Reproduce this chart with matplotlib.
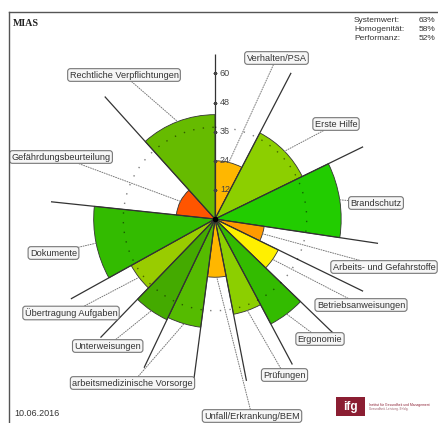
import numpy as np
import matplotlib
matplotlib.use("Agg")
import matplotlib.pyplot as plt
from matplotlib.lines import Line2D
from matplotlib.patches import Rectangle
import matplotlib.transforms as mtransforms

# ---------------- data ----------------
categories = ["Verhalten/PSA", "Erste Hilfe", "Brandschutz", "Arbeits- und Gefahrstoffe",
              "Betriebsanweisungen", "Ergonomie", "Prüfungen", "Unfall/Erkrankung/BEM",
              "arbeitsmedizinische Vorsorge", "Unterweisungen", "Übertragung Aufgaben",
              "Dokumente", "Gefährdungsbeurteilung", "Rechtliche Verpflichtungen"]
values = [24, 40, 52, 20.5, 29, 49, 40, 24, 45, 46, 39.5, 50, 16, 43]
widths_deg = [27.5, 36.5, 34.5, 17.5, 18, 18, 17, 18.5, 18, 18.5, 17, 35, 42, 42]
colors = ["#FFB700", "#8CCF00", "#22CC00", "#FF9A00", "#FFF000", "#33BB00", "#8CCF00",
          "#FFB700", "#55BB00", "#44AA00", "#99CC00", "#33BB00", "#FF5500", "#66BB00"]
r_ticks = [12, 24, 36, 48, 60]
r_max = 68
stats_names = ["Systemwert:", "Homogenität:", "Performanz:"]
stats_values = ["63%", "58%", "52%"]
systemwert = 63
date_text = "10.06.2016"

# label box positions (image pixels, y from top) -- layout only
label_pos = [(276.5, 58), (336, 124), (376, 203), (384, 267), (361, 305), (320, 339),
             (284.5, 375), (252, 416), (132.5, 383), (107.7, 346), (71, 313),
             (53.5, 253), (61, 157), (124, 75)]

W, H = 438, 423
fig = plt.figure(figsize=(W / 100, H / 100), dpi=100)
cx, cy = 215, 219
R = 165
ax = fig.add_axes([(cx - R) / W, (H - cy - R) / H, 2 * R / W, 2 * R / H], projection="polar")
ax.set_theta_zero_location("N")
ax.set_theta_direction(-1)
ax.set_ylim(0, r_max)
ax.set_axis_off()

widths = np.radians(widths_deg)
lefts = np.concatenate([[0], np.cumsum(widths)[:-1]])
mids = lefts + widths / 2

ax.bar(lefts, values, width=widths, align="edge", color=colors,
       edgecolor="#333333", linewidth=0.6, zorder=2)

# boundary lines to r_max
for t in lefts:
    ax.plot([t, t], [0, r_max], color="#333333", lw=0.9, zorder=3, solid_capstyle="butt")

# dotted reference circle (Systemwert)
th = np.linspace(0, 2 * np.pi, 500)
ax.plot(th, np.full_like(th, systemwert / 100 * 60), color="#000000", alpha=0.5,
        lw=1.0, ls=(0, (1, 6)), zorder=4)

# centre dot
ax.plot([0], [0], "o", color="black", ms=3, zorder=5)

# radial tick labels
off = mtransforms.offset_copy(ax.transData, fig=fig, x=5, y=0, units="dots")
for rt in r_ticks:
    ax.text(0, rt, str(rt), transform=off, ha="left", va="center", fontsize=6.5,
            color="#444444", family="Liberation Sans", zorder=6)
    ax.plot([0], [rt], marker="_", color="#444444", ms=3, mew=0.8, zorder=6)

# category labels with dotted leaders
for cat, m, v, (px, py) in zip(categories, mids, values, label_pos):
    ax.annotate(cat, xy=(m, v), xycoords="data", xytext=(px, H - py),
                textcoords="figure pixels", ha="center", va="center",
                fontsize=6.6, family="Liberation Sans", color="#333333", zorder=7,
                bbox=dict(boxstyle="round,pad=0.2,rounding_size=0.3", fc="#F6F6F6",
                          ec="#777777", lw=0.8),
                arrowprops=dict(arrowstyle="-", ls=(0, (1, 1.5)), color="#777777",
                                lw=0.7, shrinkA=0, shrinkB=0),
                annotation_clip=False)

# frame
fig.add_artist(Line2D([9 / W, 1], [1 - 12 / H, 1 - 12 / H], transform=fig.transFigure,
                      color="#555555", lw=1.0))
fig.add_artist(Line2D([9 / W, 9 / W], [0, 1 - 12 / H], transform=fig.transFigure,
                      color="#555555", lw=1.0))

# title and stats
fig.text(12.5 / W, 1 - 23 / H, "MIAS", fontsize=7.2, family="Liberation Serif",
         weight="bold", color="#222222", ha="left", va="center")
for i, (n, v) in enumerate(zip(stats_names, stats_values)):
    y = 1 - (20.5 + 9 * i) / H
    fig.text(354 / W, y, n, fontsize=6.0, family="Liberation Sans", color="#333333",
             ha="left", va="center")
    fig.text(419 / W, y, v, fontsize=6.0, family="Liberation Sans", color="#333333",
             ha="left", va="center")

# date
fig.text(14 / W, 1 - 413 / H, date_text, fontsize=6.5, family="Liberation Sans",
         color="#333333", ha="left", va="center")

# logo
fig.add_artist(Rectangle((336 / W, 1 - 416 / H), 29 / W, 19 / H, transform=fig.transFigure,
                         color="#8B1E32", lw=0))
fig.text(350.5 / W, 1 - 406.5 / H, "ifg", fontsize=8.5, weight="bold", color="white",
         family="Liberation Sans", ha="center", va="center")
fig.text(369 / W, 1 - 405 / H, "Institut für Gesundheit und Management", fontsize=2.4,
         color="#8B1E32", family="Liberation Sans", ha="left", va="center")
fig.text(369 / W, 1 - 409 / H, "Gesundheit. Leistung. Erfolg.", fontsize=2.2,
         color="#9a5a66", family="Liberation Sans", ha="left", va="center")

fig.savefig("out.png", dpi=100)
